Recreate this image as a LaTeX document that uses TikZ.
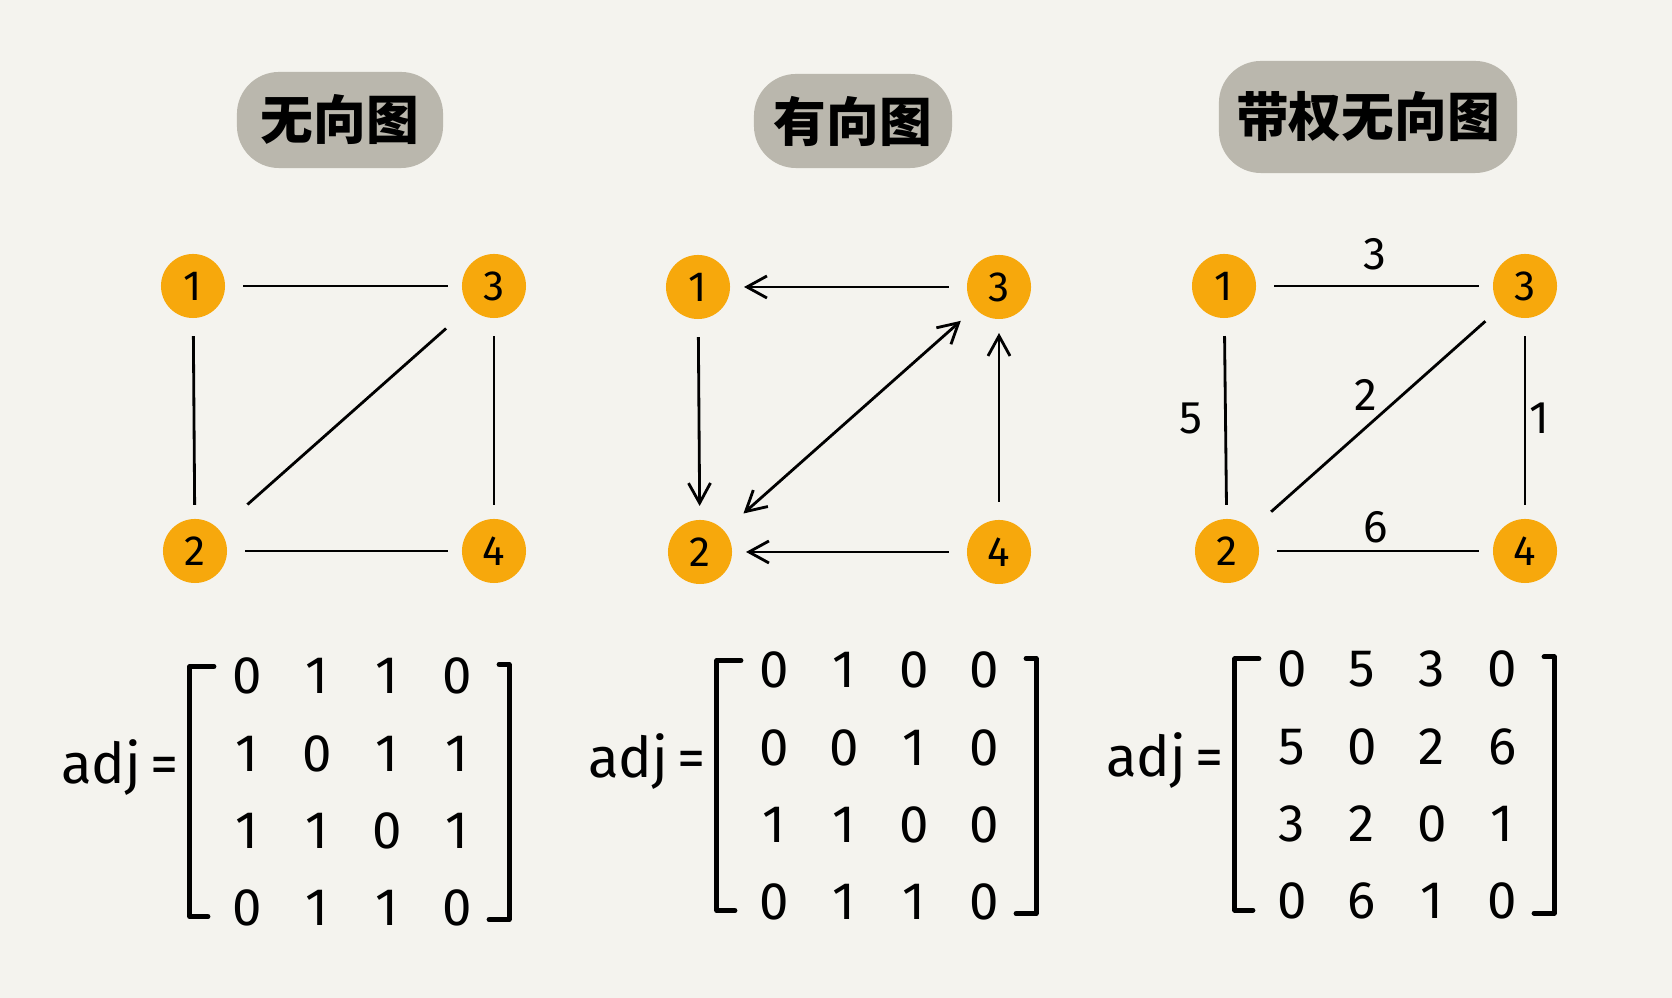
\documentclass[tikz,border=0pt]{standalone}
\usepackage{fontspec}
\setmainfont{Fira Sans}
\newfontfamily\cjk{Noto Sans CJK SC}
\usetikzlibrary{matrix, calc, arrows.meta, positioning}

\definecolor{paper}{HTML}{F4F3EE}
\definecolor{vertexfill}{HTML}{F7A80C}
\definecolor{blobgray}{HTML}{BAB7AD}

\tikzset{
	vertex/.style = {circle, fill = vertexfill, minimum size = 0.64cm, inner sep = 0pt, outer sep = 0.1cm, font = \fontsize{12}{14}\selectfont},
	graphtitle/.style = {rectangle, rounded corners = 0.42cm, fill = blobgray, inner sep = 0pt, font = \cjk\bfseries\fontsize{15}{18}\selectfont},
	edgeline/.style = {line width = 0.8pt, shorten < = 0.08cm, shorten > = 0.04cm},
	edgeweight/.style = {font = \fontsize{13}{15}\selectfont, inner sep = 2pt},
	adjmat/.style = {matrix of nodes, column sep = 0pt, row sep = 0pt,
		nodes = {minimum width = 0.7cm, minimum height = 0.77cm, inner sep = 0pt, font = \fontsize{15}{18}\selectfont}},
	adjlabel/.style = {font = \fontsize{16}{19}\selectfont, yshift = -0.14cm},
	matbracket/.style = {line width = 1.4pt, line cap = round, line join = round}
}

\begin{document}
\begin{tikzpicture}[x = 0.01cm, y = -0.01cm, >= {Straight Barb[length = 0.2cm, width = 0.22cm]}]
	\fill [paper] (0,0) rectangle (1672,998);

	\node [graphtitle, minimum width = 2.06cm, minimum height = 0.96cm] (t1) at (340,120) {无向图};
	\node [graphtitle, minimum width = 1.98cm, minimum height = 0.94cm] (t2) at (853,121) {有向图};
	\node [graphtitle, minimum width = 2.98cm, minimum height = 1.12cm] (t3) at (1368,117) {带权无向图};

	\node [vertex] (a1) at (193,286) {1};
	\node [vertex] (a3) at (494,286) {3};
	\node [vertex] (a2) at (195,551) {2};
	\node [vertex] (a4) at (494,551) {4};

	\draw [edgeline] (a1) -- (a3);
	\draw [edgeline] (a1) -- (a2);
	\draw [edgeline] (a3) -- (a4);
	\draw [edgeline] (a2) -- (a4);
	\draw [edgeline, shorten < = 0.28cm, shorten > = 0.22cm] (a2) -- (a3);

	\node [vertex] (b1) at (698,287) {1};
	\node [vertex] (b3) at (999,287) {3};
	\node [vertex] (b2) at (700,552) {2};
	\node [vertex] (b4) at (999,552) {4};

	\begin{scope}[->]
		\draw [edgeline] (b3) -- (b1);
		\draw [edgeline] (b1) -- (b2);
		\draw [edgeline] (b4) -- (b2);
		\draw [edgeline] (b4) -- (b3);
		\draw [edgeline, <->, shorten < = 0.16cm, shorten > = 0.09cm] (b2) -- (b3);
	\end{scope}

	\node [vertex] (c1) at (1224,286) {1};
	\node [vertex] (c3) at (1525,286) {3};
	\node [vertex] (c2) at (1227,551) {2};
	\node [vertex] (c4) at (1525,551) {4};

	\draw [edgeline] (c1) -- node [edgeweight, above, inner sep = 4pt] {3} (c3);
	\draw [edgeline] (c1) -- node [edgeweight, left, inner sep = 4pt, xshift = -0.08cm] {5} (c2);
	\draw [edgeline] (c3) -- node [edgeweight, right, inner sep = 1pt] {1} (c4);
	\draw [edgeline] (c2) -- node [edgeweight, above] {6} (c4);
	\draw [edgeline, shorten < = 0.17cm, shorten > = 0.11cm] (c2) -- node [edgeweight, above, xshift = -0.1cm] {2} (c3);

	\matrix [adjmat] (m1) at (352,792) {
		0 & 1 & 1 & 0 \\
		1 & 0 & 1 & 1 \\
		1 & 1 & 0 & 1 \\
		0 & 1 & 1 & 0 \\
	};
	\matrix [adjmat] (m2) at (879,786) {
		0 & 1 & 0 & 0 \\
		0 & 0 & 1 & 0 \\
		1 & 1 & 0 & 0 \\
		0 & 1 & 1 & 0 \\
	};
	\matrix [adjmat] (m3) at (1397,785) {
		0 & 5 & 3 & 0 \\
		5 & 0 & 2 & 6 \\
		3 & 2 & 0 & 1 \\
		0 & 6 & 1 & 0 \\
	};

	\foreach \m in {m1, m2, m3}
	{
		\draw [matbracket] ($(\m-1-1)+(-33,-10)$) -| ($(\m-4-1)+(-57,9)$) -- ++(18,0);
		\draw [matbracket] ($(\m-1-4)+(42,-12)$) -| ($(\m-4-4)+(52,12)$) -- ++(-20,0);
	}

	\node [adjlabel, left = 0.2cm of m1-2-1] (adj1) {adj\,=};
	\node [adjlabel, left = 0.2cm of m2-2-1] (adj2) {adj\,=};
	\node [adjlabel, left = 0.2cm of m3-2-1] (adj3) {adj\,=};
\end{tikzpicture}
\end{document}
